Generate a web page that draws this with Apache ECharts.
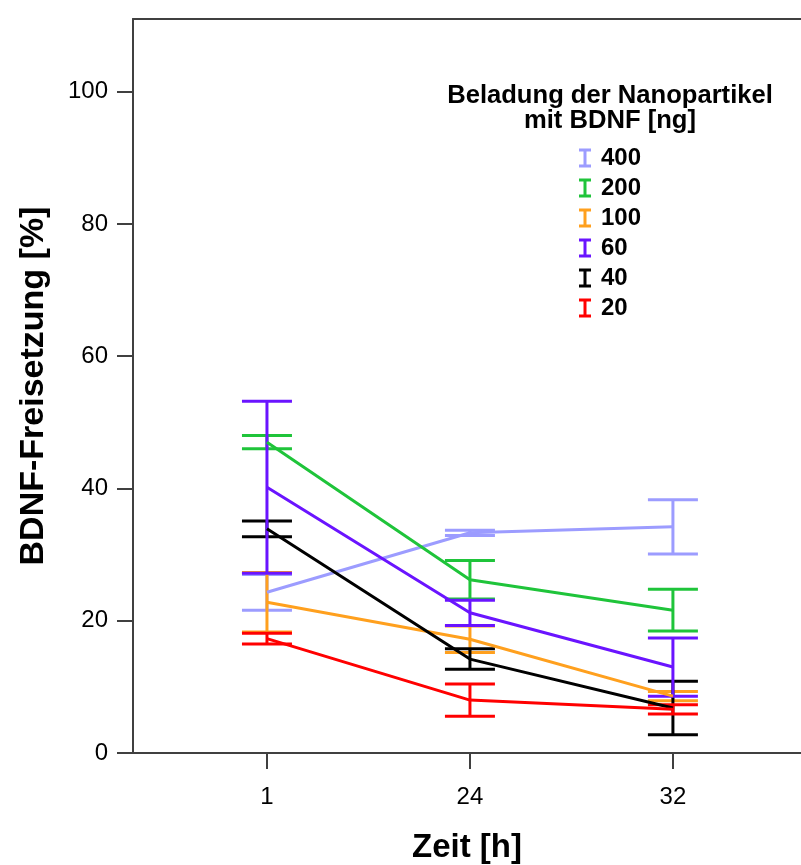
<!DOCTYPE html>
<html>
<head>
<meta charset="utf-8">
<script src="https://cdn.jsdelivr.net/npm/echarts@6/dist/echarts.min.js"></script>
<style>
  html, body { margin: 0; padding: 0; background: #fff; }
  #chart { width: 801px; height: 865px; }
</style>
</head>
<body>
<div id="chart"></div>
<script>
// time points (x categories) and y ticks
const timeLabels = ['1', '24', '32']
const yTicks = [0, 20, 40, 60, 80, 100]

// loading of nanoparticles, legend order
const loads = ['400', '200', '100', '60', '40', '20']

// mean release [%] and error (+/-) per time point
const mean400 = [24.3, 33.3, 34.2]
const err400 = [2.7, 0.4, 4.1]
const mean200 = [47.0, 26.2, 21.6]
const err200 = [1.0, 2.9, 3.15]
const mean100 = [22.8, 17.2, 8.6]
const err100 = [4.5, 2.0, 0.7]
const mean60 = [40.2, 21.2, 13.0]
const err60 = [13.0, 1.9, 4.4]
const mean40 = [33.9, 14.2, 6.8]
const err40 = [1.2, 1.55, 4.05]
const mean20 = [17.3, 8.0, 6.6]
const err20 = [0.8, 2.45, 0.7]

const groups = {
  '400': { mean: mean400, err: err400, color: '#9c9cff' },
  '200': { mean: mean200, err: err200, color: '#1fc43a' },
  '100': { mean: mean100, err: err100, color: '#ffa01e' },
  '60': { mean: mean60, err: err60, color: '#6a14ff' },
  '40': { mean: mean40, err: err40, color: '#000000' },
  '20': { mean: mean20, err: err20, color: '#ff0000' }
}
// drawing order (last on top)
const drawOrder = ['400', '100', '200', '40', '60', '20']

const font = 'Liberation Sans, Arial, Helvetica, sans-serif'
const axisColor = '#404040'
const capHalf = 25

function errorBarItem(color) {
  return function (params, api) {
    const x = api.value(0)
    const top = api.coord([x, api.value(2)])
    const bot = api.coord([x, api.value(1)])
    const style = { stroke: color, lineWidth: 3, fill: null }
    return {
      type: 'group',
      children: [
        { type: 'line', shape: { x1: top[0], y1: top[1], x2: bot[0], y2: bot[1] }, style: style },
        { type: 'line', shape: { x1: top[0] - capHalf, y1: top[1], x2: top[0] + capHalf, y2: top[1] }, style: style },
        { type: 'line', shape: { x1: bot[0] - capHalf, y1: bot[1], x2: bot[0] + capHalf, y2: bot[1] }, style: style }
      ]
    }
  }
}

const series = []
drawOrder.forEach(function (name) {
  const g = groups[name]
  series.push({
    name: name,
    type: 'custom',
    renderItem: errorBarItem(g.color),
    itemStyle: { color: g.color },
    encode: { x: 0, y: [1, 2] },
    clip: false,
    silent: true,
    data: timeLabels.map(function (t, i) { return [i, g.mean[i] - g.err[i], g.mean[i] + g.err[i]] })
  })
  series.push({
    name: name,
    type: 'line',
    symbol: 'none',
    color: g.color,
    lineStyle: { width: 3, color: g.color },
    silent: true,
    data: timeLabels.map(function (t, i) { return [i, g.mean[i]] })
  })
})

const chart = echarts.init(document.getElementById('chart'))

const option = {
  animation: false,
  backgroundColor: '#fff',
  grid: { left: 133, right: 0, top: 19, bottom: 112, containLabel: false, outerBoundsMode: 'none' },
  xAxis: [{
    type: 'value',
    min: -0.66,
    max: 2.631,
    name: 'Zeit [h]',
    nameLocation: 'middle',
    nameGap: 78,
    nameTextStyle: { fontFamily: font, fontSize: 33, fontWeight: 'bold', color: '#000' },
    axisLine: { onZero: false, lineStyle: { color: axisColor, width: 2 } },
    axisTick: { show: true, length: 16, customValues: [0, 1, 2], lineStyle: { color: axisColor, width: 2 } },
    axisLabel: {
      customValues: [0, 1, 2],
      margin: 32,
      fontFamily: font, fontSize: 24, color: '#000',
      formatter: function (v) { return timeLabels[Math.round(v)] }
    },
    splitLine: { show: false }
  }, {
    type: 'value',
    position: 'top',
    min: -0.66,
    max: 2.631,
    axisLine: { onZero: false, lineStyle: { color: axisColor, width: 2 } },
    axisTick: { show: false },
    axisLabel: { show: false },
    splitLine: { show: false }
  }],
  yAxis: {
    type: 'value',
    min: 0,
    max: 111,
    name: 'BDNF-Freisetzung [%]',
    nameLocation: 'middle',
    nameGap: 82,
    nameRotate: 90,
    nameTextStyle: { fontFamily: font, fontSize: 34, fontWeight: 'bold', color: '#000' },
    axisLine: { show: true, onZero: false, lineStyle: { color: axisColor, width: 2 } },
    axisTick: { show: true, length: 16, customValues: yTicks, lineStyle: { color: axisColor, width: 2 } },
    axisLabel: { customValues: yTicks, margin: 25, fontFamily: font, fontSize: 24, color: '#000' },
    splitLine: { show: false }
  },
  legend: {
    orient: 'vertical',
    left: 574,
    top: 141,
    padding: 5,
    itemWidth: 12,
    itemHeight: 19,
    itemGap: 6,
    selectedMode: false,
    icon: 'path://M0,0H12V3H7.5V16H12V19H0V16H4.5V3H0Z',
    textStyle: { fontFamily: font, fontSize: 24, fontWeight: 'bold', color: '#000', padding: [0, 0, 0, 5] },
    data: loads
  },
  graphic: [{
    type: 'text',
    x: 610,
    y: 108,
    style: {
      text: 'Beladung der Nanopartikel\nmit BDNF [ng]',
      font: 'bold 25.6px ' + font,
      fill: '#000',
      align: 'center',
      verticalAlign: 'middle',
      lineHeight: 25
    }
  }],
  series: series
}

chart.setOption(option)
</script>
</body>
</html>
